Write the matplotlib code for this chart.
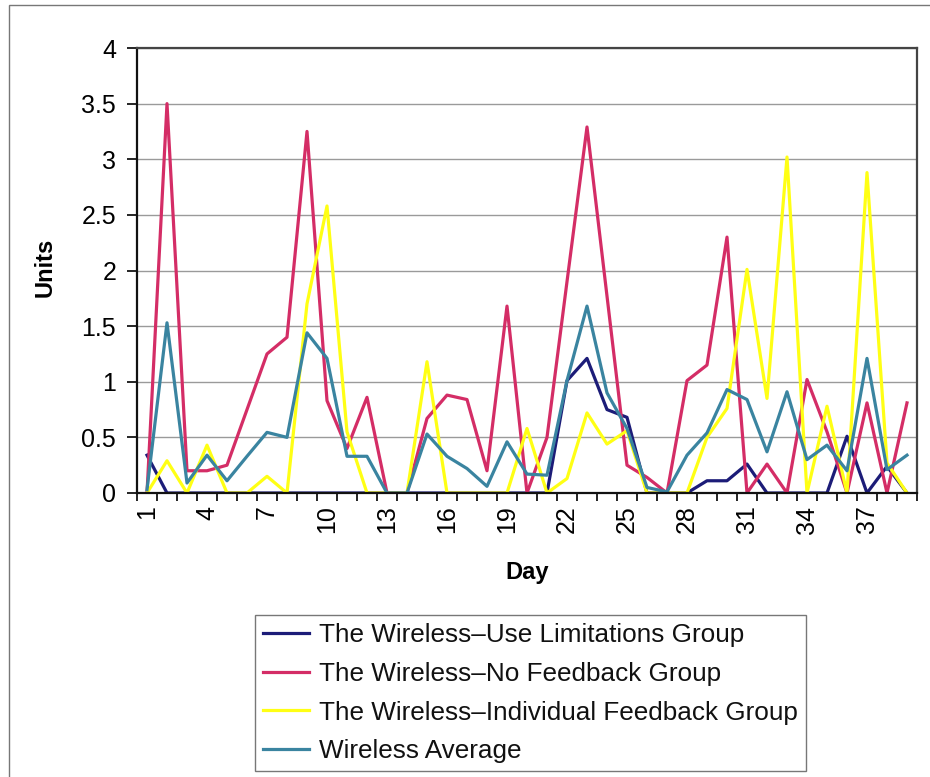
import numpy as np
import matplotlib
matplotlib.use("Agg")
import matplotlib.pyplot as plt
from matplotlib.patches import Rectangle

plt.rcParams['font.family'] = ['Liberation Sans', 'DejaVu Sans']

# daily units per group
days = np.arange(1, 40)
use_limits = [0.34, 0, 0, 0, 0, 0, 0, 0, 0, 0,
              0, 0, 0, 0, 0, 0, 0, 0, 0, 0,
              0, 1.01, 1.21, 0.75, 0.68, 0, 0, 0, 0.11, 0.11,
              0.26, 0, 0, 0, 0, 0.51, 0, 0.24, 0]
no_feedback = [0, 3.5, 0.2, 0.2, 0.25, 0.75, 1.25, 1.4, 3.25, 0.83,
               0.4, 0.86, 0, 0, 0.67, 0.88, 0.84, 0.2, 1.68, 0,
               0.5, 1.9, 3.29, 1.77, 0.25, 0.14, 0, 1.01, 1.15, 2.3,
               0, 0.26, 0, 1.02, 0.55, 0, 0.81, 0, 0.81]
indiv_feedback = [0, 0.29, 0, 0.43, 0, 0, 0.15, 0, 1.7, 2.58,
                  0.55, 0, 0, 0, 1.18, 0, 0, 0, 0, 0.58,
                  0, 0.13, 0.72, 0.44, 0.56, 0, 0, 0, 0.5, 0.76,
                  2.01, 0.85, 3.02, 0, 0.78, 0, 2.88, 0.27, 0]
average = [0.03, 1.53, 0.09, 0.34, 0.11, 0.33, 0.545, 0.5, 1.44, 1.21,
           0.33, 0.33, 0, 0, 0.53, 0.33, 0.22, 0.06, 0.46, 0.17,
           0.16, 1.01, 1.68, 0.9, 0.58, 0.05, 0.01, 0.34, 0.54, 0.93,
           0.84, 0.37, 0.91, 0.3, 0.43, 0.2, 1.21, 0.21, 0.34]

series = [
    ("The Wireless\u2013Use Limitations Group", use_limits, "#1c1c78"),
    ("The Wireless\u2013No Feedback Group", no_feedback, "#d42d66"),
    ("The Wireless\u2013Individual Feedback Group", indiv_feedback, "#ffff14"),
    ("Wireless Average", average, "#3a84a0"),
]

fig = plt.figure(figsize=(9.3, 7.77), dpi=100)
ax = fig.add_axes([137 / 930, 1 - 493 / 777, 780 / 930, 445 / 777])

for name, vals, col in series:
    ax.plot(days, vals, color=col, lw=2.3, label=name)

ax.set_xlim(0.5, 39.5)
ax.set_ylim(0, 4)
ax.set_yticks(np.arange(0, 4.01, 0.5))
ax.set_yticklabels(['0', '0.5', '1', '1.5', '2', '2.5', '3', '3.5', '4'])
ax.yaxis.grid(True, color='#9a9a9a', lw=1)
ax.set_axisbelow(True)

# tick marks between categories, labels every third day
ax.set_xticks(np.arange(0.5, 40, 1))
ax.set_xticklabels([])
lab_days = days[::3]
ax.set_xticks(lab_days, [str(d) for d in lab_days], minor=True)
ax.tick_params(axis='x', which='major', length=6, width=1.2, direction='out')
ax.tick_params(axis='x', which='minor', length=0, labelsize=18, pad=9,
               labelrotation=90)
ax.tick_params(axis='y', length=7, width=1.2, direction='out', labelsize=18, pad=8)

for s in ['left', 'bottom']:
    ax.spines[s].set_color('#111111')
    ax.spines[s].set_linewidth(1.6)
for s in ['top', 'right']:
    ax.spines[s].set_color('#444444')
    ax.spines[s].set_linewidth(1.6)

fig.text(527 / 930, 1 - 572 / 777, 'Day', fontsize=17, fontweight='bold',
         ha='center', va='center')
fig.text(45 / 930, 1 - 267 / 777, 'Units', fontsize=17, fontweight='bold',
         ha='center', va='center', rotation=90)

leg = fig.legend(loc='upper left', bbox_to_anchor=(255 / 930, 1 - 615 / 777),
                 fontsize=18.8, frameon=True, fancybox=False, edgecolor='#555555',
                 handlelength=1.75, handletextpad=0.42, borderpad=0.3,
                 labelspacing=0.57, borderaxespad=0)
leg.get_frame().set_linewidth(1.0)
for t in leg.get_texts():
    t.set_color('#111111')
for h in leg.get_lines():
    h.set_linewidth(2.3)

# outer chart border
fig.patches.append(Rectangle((9 / 930, -0.1), 1.2, 1.1 - 5 / 777,
                             transform=fig.transFigure, fill=False,
                             edgecolor='#777777', lw=1.0))

fig.savefig('out.png', dpi=100)
